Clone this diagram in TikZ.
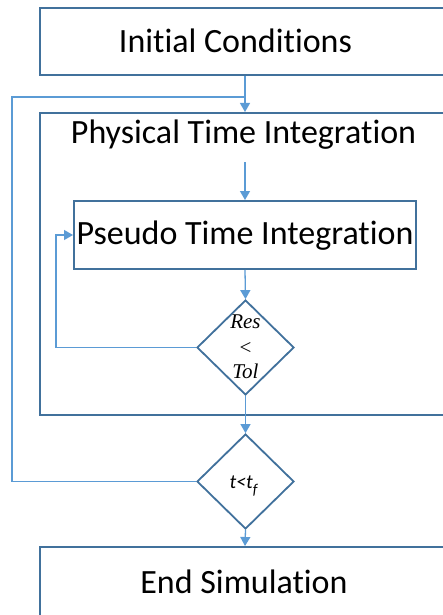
\documentclass[tikz,border=0pt]{standalone}
\usepackage{fontspec}
\setmainfont[Ligatures=NoCommon]{Carlito}
\newfontfamily\mathlike{Liberation Serif}
\usetikzlibrary{shapes.geometric,arrows.meta,calc}
\definecolor{boxc}{HTML}{41719C}
\definecolor{connc}{HTML}{5B9BD5}
\begin{document}
\begin{tikzpicture}[x=1pt,y=-1pt,
  box/.style={draw=boxc,line width=2pt,rectangle,inner sep=0pt,fill=white},
  dec/.style={draw=boxc,line width=1.8pt,diamond,inner sep=0pt,minimum width=97pt,minimum height=95pt,fill=white},
  lbl/.style={anchor=base,inner sep=0pt,font=\fontsize{34}{40}\selectfont},
  dlbl/.style={inner sep=0pt,font=\mathlike\fontsize{21}{24}\selectfont},
  conn/.style={draw=connc,line width=1.3pt},
  arr/.style={conn,-{Triangle[length=9pt,width=10pt]}}]
\useasboundingbox (0,0) rectangle (442,615);
% boxes
\node[box,minimum width=410pt,minimum height=67pt] (ic) at (245,41.5) {};
\node[lbl] (ict) at (235.5,52.5) {Initial Conditions};
\node[box,minimum width=410pt,minimum height=302pt] (phys) at (245,264) {};
\node[lbl] (physt) at (243.5,143) {Physical Time Integration};
\node[box,minimum width=342pt,minimum height=68pt] (pti) at (245,235) {};
\node[lbl] (ptit) at (245,244) {Pseudo Time Integration};
\node[dec] (res) at (245.5,347.5) {};
\node[dlbl,anchor=base] (rest) at (245.5,328) {\itshape Res};
\node[dlbl,anchor=center] (ltt) at (245.5,348) {<};
\node[dlbl,anchor=base] (tolt) at (245.5,378) {\itshape Tol};
\node[dec] (tf) at (245.5,481.5) {};
\node[anchor=base,inner sep=0pt,font=\fontsize{20}{24}\selectfont\itshape] (tft) at (243.5,488) {t<t\raisebox{-0.3em}{\fontsize{15}{18}\selectfont f}};
\node[box,minimum width=410pt,minimum height=80pt] (end) at (245,587) {};
\node[lbl] (endt) at (244,593) {End Simulation};
% connectors
\coordinate (j) at (245,97);
\coordinate (loopc) at (12,97);
\coordinate (ps) at (245,162);
\draw[arr] (ic.south) -- (phys.north);
\draw[conn] (tf.west) -| (loopc) -- (j);
\draw[arr] (ps) -- (pti.north);
\draw[arr] (pti.south) -- (res.north);
\draw[arr] (res.west) -| ($(pti.west)+(-17,0)$) -- (pti.west);
\draw[arr] (res.south) -- (tf.north);
\draw[arr] (tf.south) -- (end.north);
\end{tikzpicture}
\end{document}
